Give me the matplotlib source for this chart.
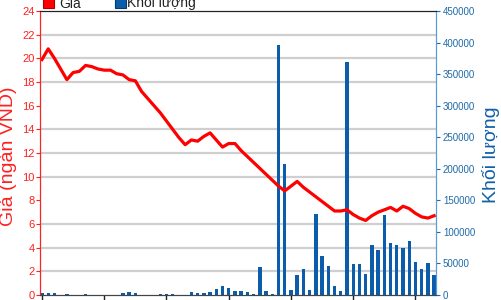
import numpy as np
import matplotlib
matplotlib.use('Agg')
import matplotlib.pyplot as plt
from matplotlib.patches import Rectangle

plt.rcParams['font.family'] = ['Liberation Sans', 'DejaVu Sans']

# daily price (thousand VND) and volume, one value per session
price = [19.9, 20.8, 20.0, 19.1, 18.2, 18.8, 18.9, 19.4, 19.3, 19.1,
         19.0, 19.0, 18.7, 18.6, 18.2, 18.1, 17.2, 16.6, 16.0, 15.4,
         14.7, 14.0, 13.3, 12.7, 13.1, 13.0, 13.4, 13.7, 13.1, 12.5,
         12.8, 12.8, 12.2, 11.7, 11.2, 10.7, 10.2, 9.7, 9.2, 8.8,
         9.2, 9.6, 9.1, 8.7, 8.3, 7.9, 7.5, 7.1, 7.1, 7.2,
         6.8, 6.5, 6.3, 6.7, 7.0, 7.2, 7.4, 7.1, 7.5, 7.3,
         6.9, 6.6, 6.5, 6.7]
volume = [2500, 2500, 2500, 0, 2000, 0, 0, 2000, 0, 0,
          0, 0, 0, 2500, 5500, 2500, 0, 0, 0, 2000,
          2000, 2000, 0, 0, 4000, 2500, 2500, 4000, 9000, 14500,
          11000, 6000, 6000, 4000, 1500, 44000, 6000, 2000, 396000, 208000,
          8000, 31000, 41000, 7500, 128000, 62000, 46000, 15000, 6000, 369000,
          49000, 49000, 34000, 79000, 72000, 127000, 83000, 79000, 75000, 85000,
          53000, 41000, 50000, 31000]
price_ticks = list(range(0, 25, 2))
volume_ticks = list(range(0, 450001, 50000))

W, H = 501, 300
fig = plt.figure(figsize=(W / 100, H / 100), dpi=100)
ax1 = fig.add_axes([40 / W, 5 / H, 396 / W, 284 / H])
ax2 = ax1.twinx()
ax1.set_zorder(ax2.get_zorder() + 1)
ax1.patch.set_visible(False)

x = np.arange(len(price))
ax2.bar(x, volume, width=0.55, color='#0b5cab', zorder=2)
ax1.plot(x, price, color='#ff0000', lw=2.3, solid_joinstyle='round')

ax1.set_xlim(-0.32, 63.3)
ax1.set_ylim(0, 24)
ax2.set_ylim(0, 450000)

# grid lines follow the price axis steps
ax2.set_yticks([v * 450000 / 24 for v in price_ticks], minor=True)
ax2.grid(True, which='minor', axis='y', color='#cfcfcf', lw=1.6, zorder=0)
ax2.tick_params(which='minor', length=0)

ax1.set_yticks(price_ticks)
ax1.set_yticklabels([str(t) for t in price_ticks])
ax1.tick_params(axis='y', colors='#ff2020', labelsize=8, length=3, pad=1)
ax2.set_yticks(volume_ticks)
ax2.set_yticklabels([str(t) for t in volume_ticks])
ax2.tick_params(axis='y', which='major', colors='#1f6aa8', labelsize=7, length=3, pad=2)

ax1.set_xticks(range(0, 61, 10))
ax1.set_xticklabels([])
ax1.tick_params(axis='x', colors='#222222', length=4, width=1)

for a in (ax1, ax2):
    a.spines['left'].set_color('#ff2020')
    a.spines['right'].set_color('#5b9bd5')
    a.spines['top'].set_color('#222222')
    a.spines['bottom'].set_color('#444444')

fig.text(9 / W, 1 - 156 / H, 'Giá (ngàn VND)', rotation=90, color='#ff2020',
         fontsize=14, ha='center', va='center')
fig.text(491 / W, 1 - 155 / H, 'Khối lượng', rotation=90, color='#1060a8',
         fontsize=14, ha='center', va='center')

# legend, partly cut by the top edge as in the original
fig.patches.append(Rectangle((42.5 / W, 1 - 7.5 / H), 11 / W, 11 / H,
                             transform=fig.transFigure, facecolor='#ff0000',
                             edgecolor='#aa0000', lw=0.8))
fig.text(59 / W, 1 - 7.5 / H, 'Giá', fontsize=10, va='baseline', color='#222222')
fig.patches.append(Rectangle((114.5 / W, 1 - 7.5 / H), 11 / W, 11 / H,
                             transform=fig.transFigure, facecolor='#0b5cab',
                             edgecolor='#063a70', lw=0.8))
fig.text(127 / W, 1 - 7.5 / H, 'Khối lượng', fontsize=10, va='baseline', color='#222222')

fig.savefig('out.png', dpi=100)
